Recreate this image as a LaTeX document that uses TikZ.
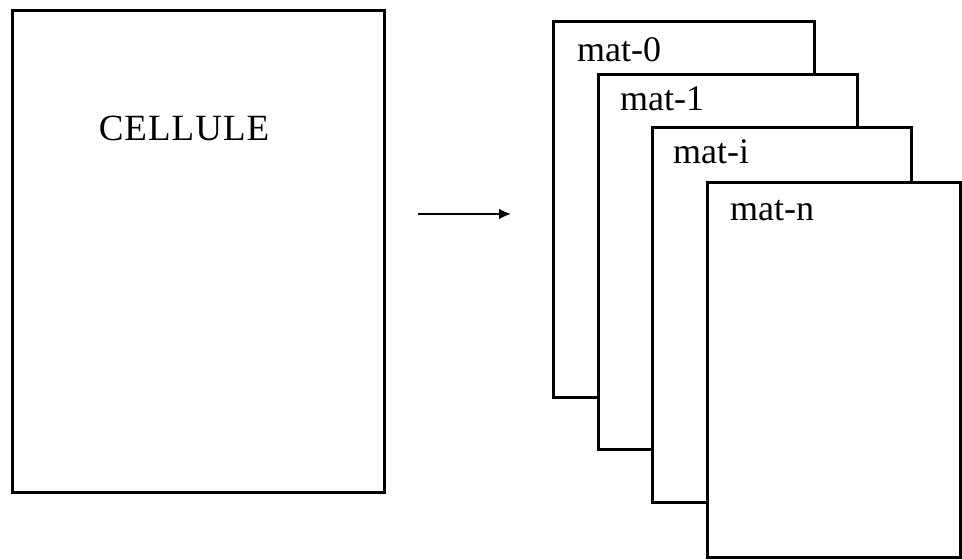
\documentclass[tikz,border=0pt]{standalone}
\usepackage{fontspec}
\setmainfont{Liberation Serif}
\usetikzlibrary{arrows.meta}
\begin{document}
\begin{tikzpicture}[x=1pt,y=-1pt,
  box/.style={draw=black,fill=white,line width=3pt,rectangle,inner sep=0pt,outer sep=0pt,anchor=north west},
  lbl/.style={anchor=base west,inner sep=0pt,font=\fontsize{36}{40}\selectfont},
  arr/.style={draw=black,line width=2.6pt,-{Latex[length=12pt,width=11pt]}}]
\useasboundingbox (0,0) rectangle (962,560);
% left cell
\node[box,minimum width=372pt,minimum height=482pt] (cell) at (12,10) {};
\node[anchor=base,inner sep=0pt,font=\fontsize{37}{40}\selectfont] (celltxt) at (184,140) {C\kern1ptE\kern1ptL\kern1ptL\kern1ptU\kern1ptL\kern1ptE};
% arrow
\coordinate (a1) at (418,214);
\coordinate (a2) at (511,214);
\draw[arr] (a1) -- (a2);
% stacked matrices
\node[box,minimum width=261pt,minimum height=376pt] (m0) at (553,21) {};
\node[lbl] (l0) at (577,61) {mat-0};
\node[box,minimum width=259pt,minimum height=375pt] (m1) at (598,74) {};
\node[lbl] (l1) at (620,110) {mat-1};
\node[box,minimum width=259pt,minimum height=375pt] (mi) at (652,127) {};
\node[lbl] (li) at (673,163) {mat-i};
\node[box,minimum width=253pt,minimum height=375pt] (mn) at (707,182) {};
\node[lbl] (ln) at (730,220) {mat-n};
\end{tikzpicture}
\end{document}
